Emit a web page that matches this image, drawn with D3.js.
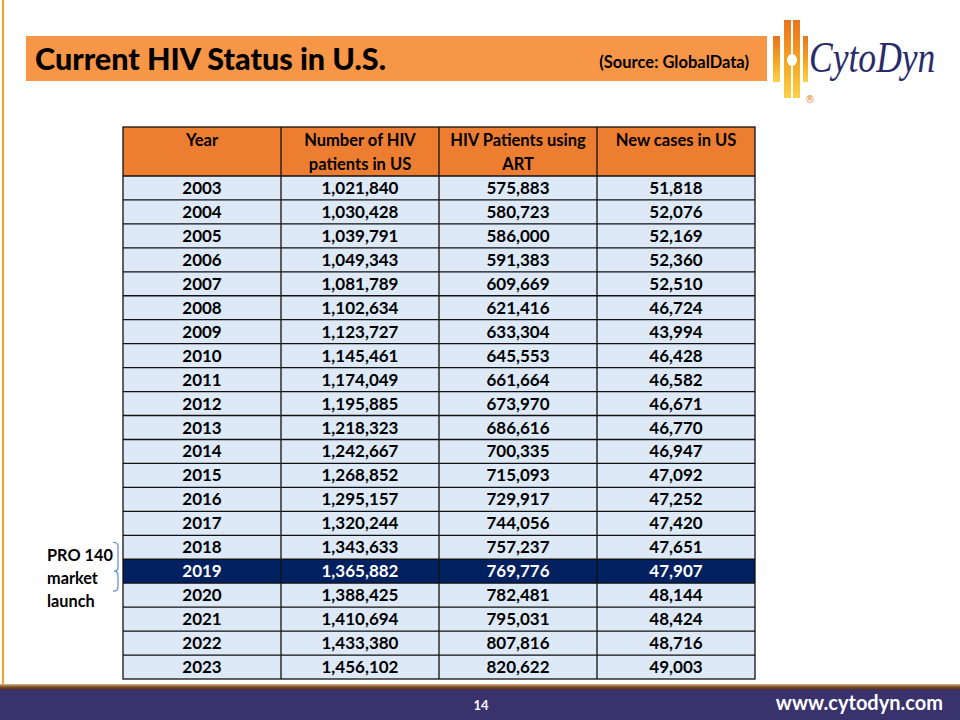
<!DOCTYPE html>
<html>
<head>
<meta charset="utf-8">
<script src="https://cdn.jsdelivr.net/npm/d3@7"></script>
<style>
html,body{margin:0;padding:0;background:#fff;}
svg{display:block;font-family:Lato,"Open Sans",sans-serif;}
</style>
</head>
<body>
<svg id="c" width="960" height="720"></svg>
<script>
// ---- data ----
const years = [2003,2004,2005,2006,2007,2008,2009,2010,2011,2012,2013,2014,2015,2016,2017,2018,2019,2020,2021,2022,2023];
const hivPatients = [1021840,1030428,1039791,1049343,1081789,1102634,1123727,1145461,1174049,1195885,1218323,1242667,1268852,1295157,1320244,1343633,1365882,1388425,1410694,1433380,1456102];
const artPatients = [575883,580723,586000,591383,609669,621416,633304,645553,661664,673970,686616,700335,715093,729917,744056,757237,769776,782481,795031,807816,820622];
const newCases = [51818,52076,52169,52360,52510,46724,43994,46428,46582,46671,46770,46947,47092,47252,47420,47651,47907,48144,48424,48716,49003];
const columnHeaders = [["Year"],["Number of HIV","patients in US"],["HIV Patients using","ART"],["New cases in US"]];
const highlightYear = 2019;
const titleText = "Current HIV Status in U.S.";
const sourceText = "(Source: GlobalData)";
const noteLines = ["PRO 140","market","launch"];
const pageNumber = "14";
const siteText = "www.cytodyn.com";

const svg = d3.select("#c");
const fmt = d3.format(",");

// left orange rule
svg.append("rect").attr("x",2).attr("y",0).attr("width",2).attr("height",687).attr("fill","#f0a030");

// title bar
svg.append("rect").attr("x",26).attr("y",36).attr("width",741).attr("height",45).attr("fill","#f79646");
svg.append("text").attr("x",35).attr("y",70).attr("font-size",30.5).attr("font-weight",900).attr("fill","#000").text(titleText);
svg.append("text").attr("x",749).attr("y",68).attr("text-anchor","end").attr("font-size",16.5).attr("font-weight",700).attr("fill","#000").text(sourceText);

// logo
const defs = svg.append("defs");
const lg = defs.append("linearGradient").attr("id","lg").attr("x1",0).attr("y1",0).attr("x2",0).attr("y2",1);
lg.append("stop").attr("offset","0%").attr("stop-color","#e8731f");
lg.append("stop").attr("offset","55%").attr("stop-color","#f5a623");
lg.append("stop").attr("offset","100%").attr("stop-color","#fbd24a");
const logo = svg.append("g");
logo.append("rect").attr("x",773).attr("y",36).attr("width",7).attr("height",46).attr("fill","url(#lg)");
logo.append("rect").attr("x",784).attr("y",20).attr("width",7).attr("height",78).attr("fill","url(#lg)");
logo.append("rect").attr("x",793).attr("y",20).attr("width",7).attr("height",78).attr("fill","url(#lg)");
logo.append("rect").attr("x",803).attr("y",36).attr("width",5).attr("height",46).attr("fill","url(#lg)");
logo.append("rect").attr("x",791).attr("y",20).attr("width",2).attr("height",78).attr("fill","#fff").attr("opacity",0.6);
logo.append("ellipse").attr("cx",792).attr("cy",60).attr("rx",5).attr("ry",6).attr("fill","#fff");
logo.append("text").attr("transform","translate(809,72) scale(0.79,1)").attr("font-family","'Liberation Serif','DejaVu Serif',serif").attr("font-style","italic")
  .attr("font-size",45).attr("fill","#2b2a6b").text("CytoDyn");
logo.append("text").attr("x",805).attr("y",103).attr("font-size",10).attr("fill","#e8831f").attr("font-family","'DejaVu Sans',sans-serif").text("®");

// table
const cols = ["year","hiv","art","nc"];
const x = d3.scaleBand().domain(cols).range([123,755]);
const y = d3.scaleBand().domain(years).range([176,679]);
const headTop = 127;
const rows = years.map((yr,i)=>({year:yr, vals:[String(yr), fmt(hivPatients[i]), fmt(artPatients[i]), fmt(newCases[i])]}));

// header
svg.append("rect").attr("x",x.range()[0]).attr("y",headTop).attr("width",x.range()[1]-x.range()[0]).attr("height",y.range()[0]-headTop).attr("fill","#ed7d31");
cols.forEach((c,ci)=>{
  columnHeaders[ci].forEach((ln,li)=>{
    svg.append("text").attr("x",x(c)+x.bandwidth()/2).attr("y",headTop+19+li*24).attr("text-anchor","middle")
      .attr("font-size",16.5).attr("font-weight",700).attr("fill","#000").text(ln);
  });
});

// body rows
const rg = svg.selectAll("g.row").data(rows).join("g").attr("class","row");
rg.append("rect").attr("x",x.range()[0]).attr("y",d=>y(d.year)).attr("width",x.range()[1]-x.range()[0]).attr("height",y.bandwidth())
  .attr("fill",d=>d.year===highlightYear?"#002060":"#dde9f6");
rg.each(function(d){
  const g = d3.select(this);
  cols.forEach((c,ci)=>{
    g.append("text").attr("x",x(c)+x.bandwidth()/2).attr("y",y(d.year)+y.bandwidth()/2+6).attr("text-anchor","middle")
      .attr("font-size",17).attr("font-weight",700).attr("fill",d.year===highlightYear?"#fff":"#000").text(d.vals[ci]);
  });
});

// grid lines
const grid = svg.append("g").attr("stroke","#111").attr("stroke-width",1.3).attr("fill","none");
grid.append("rect").attr("x",x.range()[0]).attr("y",headTop).attr("width",x.range()[1]-x.range()[0]).attr("height",y.range()[1]-headTop);
cols.slice(1).forEach(c=>grid.append("line").attr("x1",x(c)).attr("x2",x(c)).attr("y1",headTop).attr("y2",y.range()[1]));
years.forEach(yr=>grid.append("line").attr("x1",x.range()[0]).attr("x2",x.range()[1]).attr("y1",y(yr)).attr("y2",y(yr)));

// note + brace
noteLines.forEach((t,i)=>svg.append("text").attr("x",47).attr("y",561+i*23).attr("font-size",16.3).attr("font-weight",700).attr("fill","#000").text(t));
const by0 = y(2018)+y.bandwidth()/2-5, by1 = y(2020)+y.bandwidth()/2-4, bm = y(highlightYear)+y.bandwidth()/2;
svg.append("path").attr("fill","none").attr("stroke","#5b8ac6").attr("stroke-width",1.2)
  .attr("d",`M113,${by0} Q118,${by0} 118,${by0+4} L118,${bm-4} Q118,${bm} 114,${bm} Q118,${bm} 118,${bm+4} L118,${by1-4} Q118,${by1} 113,${by1}`);

// footer
const fg = defs.append("linearGradient").attr("id","fg").attr("x1",0).attr("y1",0).attr("x2",0).attr("y2",1);
fg.append("stop").attr("offset","0%").attr("stop-color","#d9b890");
fg.append("stop").attr("offset","50%").attr("stop-color","#7a4a1e");
fg.append("stop").attr("offset","100%").attr("stop-color","#4a2f3a");
svg.append("rect").attr("x",0).attr("y",684).attr("width",960).attr("height",6).attr("fill","url(#fg)");
svg.append("rect").attr("x",0).attr("y",690).attr("width",960).attr("height",30).attr("fill","#39326c");
svg.append("text").attr("x",481).attr("y",710).attr("text-anchor","middle").attr("font-size",13).attr("font-weight",700).attr("fill","#fff").text(pageNumber);
svg.append("text").attr("x",943).attr("y",710).attr("text-anchor","end").attr("font-size",20).attr("font-weight",700).attr("fill","#fff").text(siteText);
</script>
</body>
</html>
